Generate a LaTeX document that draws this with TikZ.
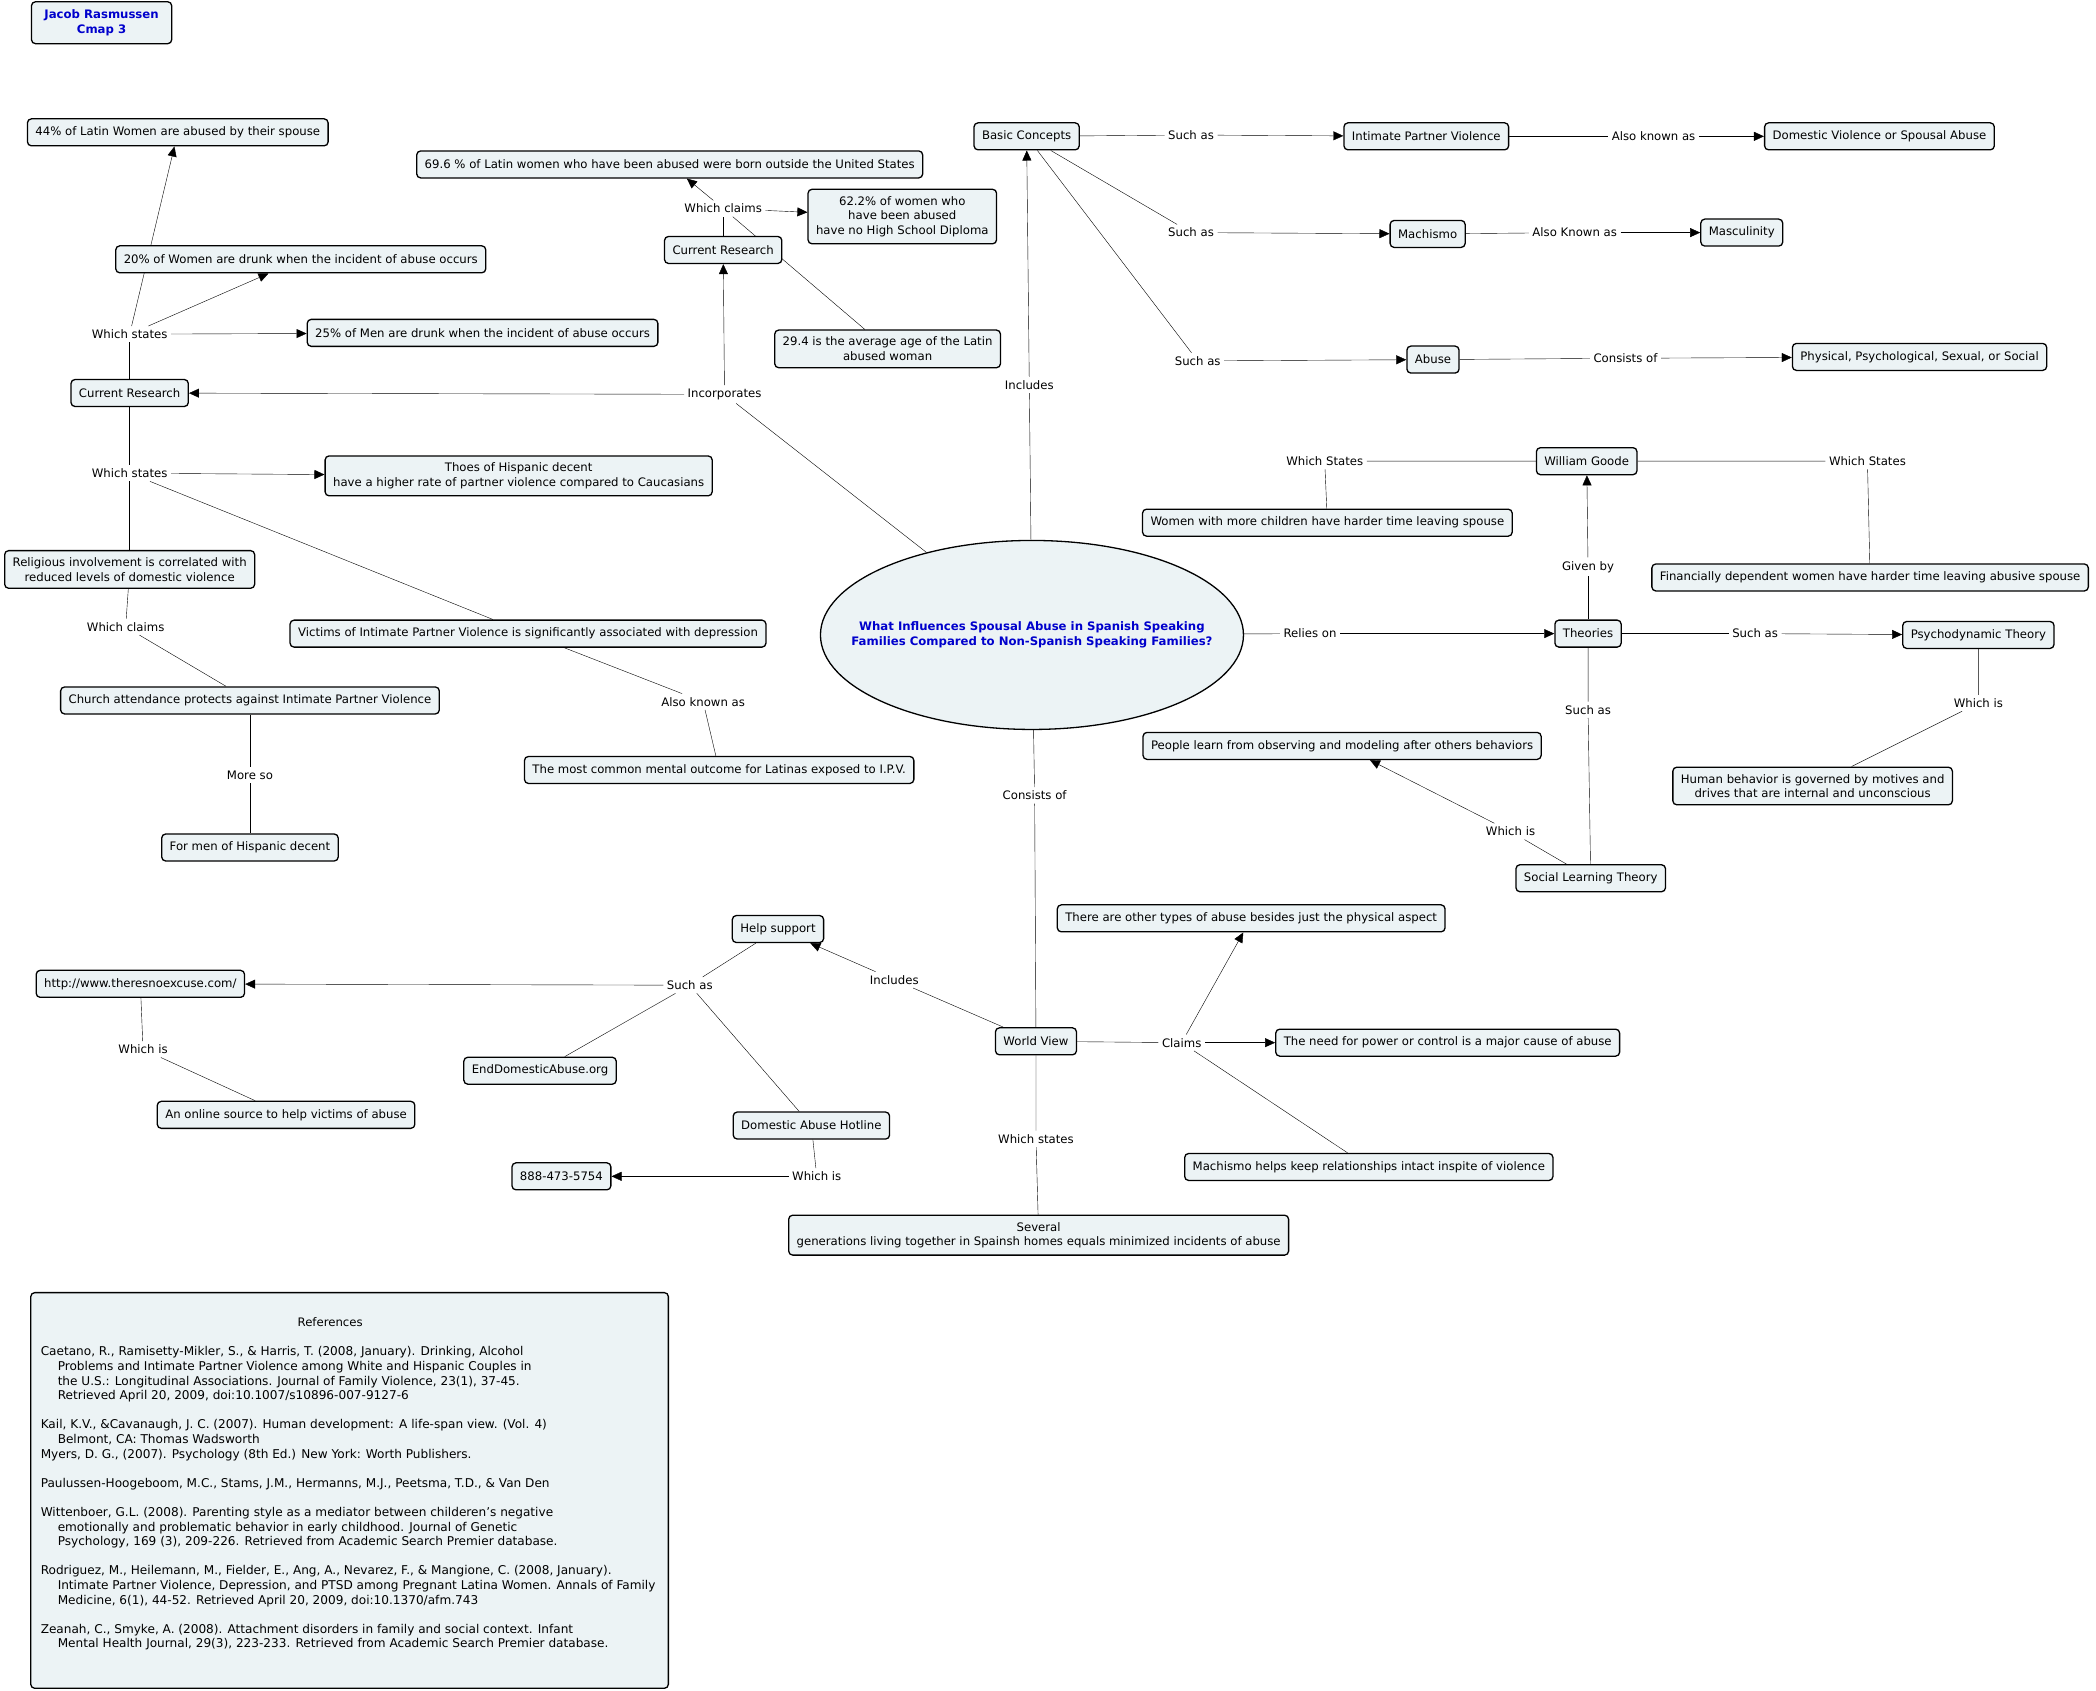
\documentclass[tikz,border=0pt]{standalone}
\usepackage{fontspec}
\setmainfont{DejaVu Sans}
\usetikzlibrary{arrows.meta,shapes.geometric,backgrounds}
\definecolor{cmapfill}{RGB}{236,243,245}
\definecolor{cmapblue}{RGB}{0,0,204}
\def\cmapfont{\fontsize{11.7}{14.6}\selectfont}
\def\reffont{\fontsize{12.1}{14.6}\selectfont}
\def\ind{\hspace*{17pt}}
\tikzset{
  concept/.style={draw, rounded corners=4pt, fill=cmapfill, align=center, inner xsep=8pt, inner ysep=7pt, minimum height=27pt, font=\cmapfont},
  linkphrase/.style={inner sep=3pt, font=\cmapfont},
  arr/.style={-{Triangle[length=10pt,width=9pt]}}
}

\begin{document}
\begin{tikzpicture}[x=1.3367pt, y=-1.3367pt, line width=1.3pt]
			%%%%% START %%%%%
			\useasboundingbox (0,0) rectangle (1568,1265);
			
			\node[concept, font=\cmapfont\bfseries, text=cmapblue, inner xsep=13pt, inner ysep=8pt] (author) at (76,17) {Jacob Rasmussen\\Cmap 3};
			
			\node[draw, ellipse, fill=cmapfill, minimum width=423pt, minimum height=189pt, inner xsep=-45pt, inner ysep=0pt, align=center, font=\cmapfont\bfseries, text=cmapblue] (focus) at (772,475) {What Influences Spousal Abuse in Spanish Speaking\\Families Compared to Non-Spanish Speaking Families?};
			
			% current research, left
			\node[concept] (p44) at (133,99) {44\% of Latin Women are abused by their spouse};
			\node[concept] (p20) at (225,194) {20\% of Women are drunk when the incident of abuse occurs};
			\node[linkphrase] (wsA) at (97,250) {Which states};
			\node[concept] (p25) at (361,249) {25\% of Men are drunk when the incident of abuse occurs};
			\node[concept] (crLeft) at (97,294) {Current Research};
			\node[linkphrase] (wsB) at (97,354) {Which states};
			\node[concept] (hisp) at (388,356) {Thoes of Hispanic decent\\have a higher rate of partner violence compared to Caucasians};
			\node[concept] (relig) at (97,426) {Religious involvement is correlated with\\reduced levels of domestic violence};
			\node[linkphrase] (wcA) at (94,469) {Which claims};
			\node[concept] (church) at (187,524) {Church attendance protects against Intimate Partner Violence};
			\node[linkphrase] (moreso) at (187,580) {More so};
			\node[concept] (men) at (187,634) {For men of Hispanic decent};
			\node[concept] (victims) at (395,474) {Victims of Intimate Partner Violence is significantly associated with depression};
			\node[linkphrase] (akaA) at (526,525) {Also known as};
			\node[concept] (common) at (538,576) {The most common mental outcome for Latinas exposed to I.P.V.};
			
			% current research, top
			\node[linkphrase] (incorp) at (542,295) {Incorporates};
			\node[concept] (crTop) at (541,187) {Current Research};
			\node[linkphrase] (wcB) at (541,156) {Which claims};
			\node[concept] (p696) at (501,123) {69.6 \% of Latin women who have been abused were born outside the United States};
			\node[concept] (p622) at (675,162) {62.2\% of women who\\have been abused\\have no High School Diploma};
			\node[concept] (p294) at (664,261) {29.4 is the average age of the Latin\\abused woman};
			
			% basic concepts
			\node[linkphrase] (incl) at (770,288) {Includes};
			\node[concept] (basic) at (768,102) {Basic Concepts};
			\node[linkphrase] (saA) at (891,101) {Such as};
			\node[concept] (ipv) at (1067,102) {Intimate Partner Violence};
			\node[linkphrase] (akaB) at (1237,102) {Also known as};
			\node[concept] (dv) at (1406,102) {Domestic Violence or Spousal Abuse};
			\node[linkphrase] (saB) at (891,174) {Such as};
			\node[concept] (machismo) at (1068,175) {Machismo};
			\node[linkphrase] (akaC) at (1178,174) {Also Known as};
			\node[concept] (masc) at (1303,174) {Masculinity};
			\node[linkphrase] (saC) at (896,270) {Such as};
			\node[concept] (abuse) at (1072,269) {Abuse};
			\node[linkphrase] (consA) at (1216,268) {Consists of};
			\node[concept] (phys) at (1436,267) {Physical, Psychological, Sexual, or Social};
			
			% theories
			\node[concept] (goode) at (1187,345) {William Goode};
			\node[linkphrase] (wsC) at (991,345) {Which States};
			\node[linkphrase] (wsD) at (1397,345) {Which States};
			\node[concept] (children) at (993,391) {Women with more children have harder time leaving spouse};
			\node[concept] (financial) at (1399,432) {Financially dependent women have harder time leaving abusive spouse};
			\node[linkphrase] (givenby) at (1188,424) {Given by};
			\node[linkphrase] (relies) at (980,474) {Relies on};
			\node[concept] (theories) at (1188,474) {Theories};
			\node[linkphrase] (saD) at (1313,474) {Such as};
			\node[concept] (psycho) at (1480,475) {Psychodynamic Theory};
			\node[linkphrase] (wiA) at (1480,526) {Which is};
			\node[concept] (human) at (1356,588) {Human behavior is governed by motives and\\drives that are internal and unconscious};
			\node[linkphrase] (saE) at (1188,531) {Such as};
			\node[concept] (people) at (1004,558) {People learn from observing and modeling after others behaviors};
			\node[linkphrase] (wiB) at (1130,622) {Which is};
			\node[concept] (social) at (1190,657) {Social Learning Theory};
			
			% world view
			\node[linkphrase] (consB) at (774,595) {Consists of};
			\node[concept] (worldview) at (775,779) {World View};
			\node[linkphrase] (inclB) at (669,733) {Includes};
			\node[concept] (help) at (582,695) {Help support};
			\node[linkphrase] (saF) at (516,737) {Such as};
			\node[concept] (url) at (105,736) {http://www.theresnoexcuse.com/};
			\node[linkphrase] (wiC) at (107,785) {Which is};
			\node[concept] (online) at (214,834) {An online source to help victims of abuse};
			\node[concept] (endabuse) at (404,801) {EndDomesticAbuse.org};
			\node[concept] (hotline) at (607,842) {Domestic Abuse Hotline};
			\node[linkphrase] (wiD) at (611,880) {Which is};
			\node[concept] (phone) at (420,880) {888-473-5754};
			\node[linkphrase] (wsE) at (775,852) {Which states};
			\node[concept] (several) at (777,924) {Several\\generations living together in Spainsh homes equals minimized incidents of abuse};
			\node[linkphrase] (claims) at (884,780) {Claims};
			\node[concept] (other) at (936,687) {There are other types of abuse besides just the physical aspect};
			\node[concept] (need) at (1083,780) {The need for power or control is a major cause of abuse};
			\node[concept] (machviol) at (1024,873) {Machismo helps keep relationships intact inspite of violence};
			
			% references
			\draw[rounded corners=4pt, fill=cmapfill] (23,967) rectangle (500,1263);
			\node[font=\cmapfont] (refhead) at (247,989) {References};
			\node[font=\reffont, align=left, anchor=north west, inner sep=0pt] (reflist) at (30,1007) {Caetano, R., Ramisetty-Mikler, S., \& Harris, T. (2008, January). Drinking, Alcohol\\
\ind Problems and Intimate Partner Violence among White and Hispanic Couples in\\
\ind the U.S.: Longitudinal Associations. Journal of Family Violence, 23(1), 37-45.\\
\ind Retrieved April 20, 2009, doi:10.1007/s10896-007-9127-6\\[14.6pt]
Kail, K.V., \&Cavanaugh, J. C. (2007). Human development: A life-span view. (Vol. 4)\\
\ind Belmont, CA: Thomas Wadsworth\\
Myers, D. G., (2007). Psychology (8th Ed.) New York: Worth Publishers.\\[14.6pt]
Paulussen-Hoogeboom, M.C., Stams, J.M., Hermanns, M.J., Peetsma, T.D., \& Van Den\\[14.6pt]
Wittenboer, G.L. (2008). Parenting style as a mediator between childeren’s negative\\
\ind emotionally and problematic behavior in early childhood. Journal of Genetic\\
\ind Psychology, 169 (3), 209-226. Retrieved from Academic Search Premier database.\\[14.6pt]
Rodriguez, M., Heilemann, M., Fielder, E., Ang, A., Nevarez, F., \& Mangione, C. (2008, January).\\
\ind Intimate Partner Violence, Depression, and PTSD among Pregnant Latina Women. Annals of Family\\
\ind Medicine, 6(1), 44-52. Retrieved April 20, 2009, doi:10.1370/afm.743\\[14.6pt]
Zeanah, C., Smyke, A. (2008). Attachment disorders in family and social context. Infant\\
\ind Mental Health Journal, 29(3), 223-233. Retrieved from Academic Search Premier database.};
			
			\begin{scope}[on background layer]
			\draw (crLeft) -- (wsA);
			\draw[arr] (wsA) -- (p44);
			\draw[arr] (wsA) -- (p20);
			\draw[arr] (wsA) -- (p25);
			\draw (crLeft) -- (wsB);
			\draw[arr] (wsB) -- (hisp);
			\draw (wsB) -- (relig);
			\draw (wsB) -- (victims);
			\draw (relig) -- (wcA) -- (church);
			\draw (church) -- (moreso) -- (men);
			\draw (victims) -- (akaA) -- (common);
			
			\draw (focus) -- (incorp);
			\draw[arr] (incorp) -- (crLeft);
			\draw[arr] (incorp) -- (crTop);
			\draw (crTop) -- (wcB);
			\draw[arr] (wcB) -- (p696);
			\draw[arr] (wcB) -- (p622);
			\draw (wcB) -- (p294);
			
			\draw (focus) -- (incl);
			\draw[arr] (incl) -- (basic);
			\draw (basic) -- (saA);
			\draw[arr] (saA) -- (ipv);
			\draw (basic) -- (saB);
			\draw[arr] (saB) -- (machismo);
			\draw (basic) -- (saC);
			\draw[arr] (saC) -- (abuse);
			\draw (ipv) -- (akaB);
			\draw[arr] (akaB) -- (dv);
			\draw (machismo) -- (akaC);
			\draw[arr] (akaC) -- (masc);
			\draw (abuse) -- (consA);
			\draw[arr] (consA) -- (phys);
			
			\draw (focus) -- (relies);
			\draw[arr] (relies) -- (theories);
			\draw (theories) -- (givenby);
			\draw[arr] (givenby) -- (goode);
			\draw (goode) -- (wsC) -- (children);
			\draw (goode) -- (wsD) -- (financial);
			\draw (theories) -- (saD);
			\draw[arr] (saD) -- (psycho);
			\draw (psycho) -- (wiA) -- (human);
			\draw (theories) -- (saE) -- (social);
			\draw (social) -- (wiB);
			\draw[arr] (wiB) -- (people);
			
			\draw (focus) -- (consB) -- (worldview);
			\draw (worldview) -- (inclB);
			\draw[arr] (inclB) -- (help);
			\draw (help) -- (saF);
			\draw[arr] (saF) -- (url);
			\draw (saF) -- (endabuse);
			\draw (saF) -- (hotline);
			\draw (url) -- (wiC) -- (online);
			\draw (hotline) -- (wiD);
			\draw[arr] (wiD) -- (phone);
			\draw (worldview) -- (wsE) -- (several);
			\draw (worldview) -- (claims);
			\draw[arr] (claims) -- (need);
			\draw[arr] (claims) -- (other);
			\draw (claims) -- (machviol);
			\end{scope}
			%%%%% END %%%%%
\end{tikzpicture}
\end{document}
